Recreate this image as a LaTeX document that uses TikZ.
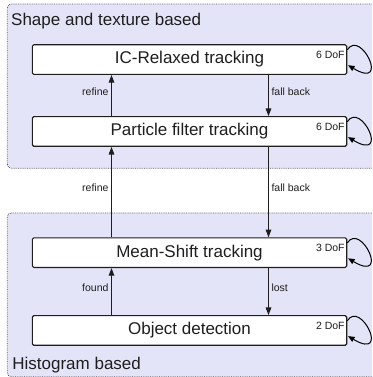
\documentclass[tikz,border=0pt]{standalone}
\usepackage{fontspec}
\setmainfont{Liberation Sans}
\usetikzlibrary{arrows.meta,calc}
\definecolor{grpfill}{RGB}{228,228,248}
\definecolor{grpline}{RGB}{85,85,95}
\definecolor{ink}{RGB}{30,30,30}
\begin{document}
\begin{tikzpicture}[x=1pt,y=1pt,
  grp/.style={draw=grpline,fill=grpfill,densely dotted,line width=0.8pt,rounded corners=4pt},
  state/.style={draw=ink,fill=white,line width=1.1pt,rounded corners=1.5pt,
    minimum width=314.4pt,minimum height=29.6pt,inner sep=0pt,
    font=\fontsize{17}{20}\selectfont,text=ink},
  dof/.style={anchor=base east,inner sep=0pt,font=\fontsize{10.5}{12}\selectfont,text=ink},
  grplabel/.style={anchor=base west,inner sep=0pt,font=\fontsize{17}{20}\selectfont,text=ink},
  edge/.style={draw=ink,line width=1.1pt,-{Triangle[length=7.7pt,width=5.6pt]}},
  lbl/.style={font=\fontsize{10.5}{12}\selectfont,text=ink,inner sep=2.5pt,yshift=4pt},
  selfloop/.style={draw=black,line width=1pt,-{Triangle[length=6.5pt,width=5.4pt]}}
]
\clip (0,0) rectangle (372,377);
% groups
\path[grp] (7.3,208.7) rectangle (390,373);
\path[grp] (7.3,0.3) rectangle (390,164);
\node[grplabel] (gtop) at (11,351.5) {Shape and texture based};
\node[grplabel] (gbot) at (12.2,7) {Histogram based};
% states
\node[state] (ic) at (189.5,317.4) {IC-Relaxed tracking};
\node[state] (pf) at (189.5,245.5) {Particle filter tracking};
\node[state] (ms) at (189.5,124.3) {Mean-Shift tracking};
\node[state] (od) at (189.5,46.5) {Object detection};
% DoF labels and self loops
\foreach \n/\d in {ic/6,pf/6,ms/3,od/2}{
  \node[dof] (\n dof) at ([xshift=-2.4pt,yshift=-14.3pt]\n.north east) {\d\ DoF};
  \coordinate (\n ls) at ([yshift=9.7pt]\n.east);
  \coordinate (\n le) at ([xshift=0.8pt,yshift=-5.6pt]\n.east);
  \draw[selfloop] (\n ls) .. controls ($(\n ls)+(13.5,21.5)$) and ($(\n le)+(42.5,-25.4)$) .. (\n le);
}
% transitions
\draw[edge] ([xshift=-78pt]pf.north) -- node[lbl,left]{refine} ([xshift=-78pt]ic.south);
\draw[edge] ([xshift=79pt]ic.south) -- node[lbl,right]{fall back} ([xshift=79pt]pf.north);
\draw[edge] ([xshift=-78pt]ms.north) -- node[lbl,left]{refine} ([xshift=-78pt]pf.south);
\draw[edge] ([xshift=79pt]pf.south) -- node[lbl,right]{fall back} ([xshift=79pt]ms.north);
\draw[edge] ([xshift=-78pt]od.north) -- node[lbl,left]{found} ([xshift=-78pt]ms.south);
\draw[edge] ([xshift=79pt]ms.south) -- node[lbl,right]{lost} ([xshift=79pt]od.north);
\end{tikzpicture}
\end{document}
